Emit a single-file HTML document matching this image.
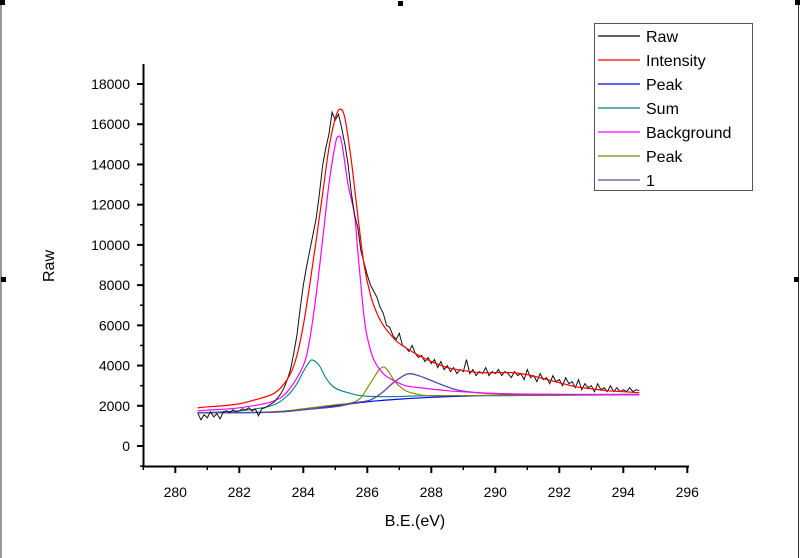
<!DOCTYPE html>
<html><head><meta charset="utf-8"><style>
body{margin:0;background:#fff;}
svg{display:block;font-family:"Liberation Sans",Arial,sans-serif;}
</style></head><body>
<svg id="chart" width="800" height="558" viewBox="0 0 800 558">
<line x1="1" y1="4" x2="1" y2="558" stroke="#333"/>
<line x1="798.5" y1="4" x2="798.5" y2="558" stroke="#333"/>
<rect x="0" y="0" width="5" height="5" fill="#000"/>
<rect x="398" y="1" width="5" height="5" fill="#000"/>
<rect x="795" y="0" width="5" height="5" fill="#000"/>
<rect x="1" y="277" width="5" height="5" fill="#000"/>
<rect x="794" y="277" width="5" height="5" fill="#000"/>
<g id="axes"></g>
<g id="series"></g>
<text x="415" y="526" font-size="16" text-anchor="middle">B.E.(eV)</text>
<text x="0" y="0" font-size="16" text-anchor="middle" transform="translate(54,266) rotate(-90)">Raw</text>
<g>
<rect x="594.5" y="23.5" width="158" height="167" fill="#fff" stroke="#555"/>
<g id="legend-items"></g>
</g>
</svg>
<script>
const rawX = [280.7,280.8,280.9,281.0,281.1,281.2,281.3,281.4,281.5,281.6,281.7,281.8,281.9,282.0,282.1,282.2,282.3,282.4,282.5,282.6,282.7,282.8,282.9,283.0,283.1,283.2,283.3,283.4,283.5,283.6,283.7,283.8,283.9,284.0,284.1,284.2,284.3,284.4,284.5,284.6,284.7,284.8,284.9,285.0,285.1,285.2,285.3,285.4,285.5,285.6,285.7,285.8,285.9,286.0,286.1,286.2,286.3,286.4,286.5,286.6,286.7,286.8,286.9,287.0,287.1,287.2,287.3,287.4,287.5,287.6,287.7,287.8,287.9,288.0,288.1,288.2,288.3,288.4,288.5,288.6,288.7,288.8,288.9,289.0,289.1,289.2,289.3,289.4,289.5,289.6,289.7,289.8,289.9,290.0,290.1,290.2,290.3,290.4,290.5,290.6,290.7,290.8,290.9,291.0,291.1,291.2,291.3,291.4,291.5,291.6,291.7,291.8,291.9,292.0,292.1,292.2,292.3,292.4,292.5,292.6,292.7,292.8,292.9,293.0,293.1,293.2,293.3,293.4,293.5,293.6,293.7,293.8,293.9,294.0,294.1,294.2,294.3,294.4,294.5];
const rawY = [1650,1300,1550,1400,1700,1450,1600,1350,1700,1750,1650,1800,1700,1750,1850,1800,1900,1750,1850,1500,1850,1900,2000,2100,2200,2400,2600,2900,3300,3800,4600,5500,6800,8000,8900,9700,10500,11300,12500,13900,14800,15500,16600,16200,16500,15800,15000,14000,12600,11500,10900,9700,9100,8500,8000,7700,7400,6900,6600,6000,5900,5500,5300,5600,5000,4900,4700,5000,4600,4400,4500,4200,4400,4100,4300,3900,4200,3800,4000,3700,3900,3600,3800,3700,4300,3600,3800,3500,3700,3600,3900,3500,3700,3600,3800,3500,3700,3600,3400,3700,3500,3600,3300,3800,3400,3500,3200,3600,3300,3400,3100,3500,3200,3300,3000,3400,3100,3200,2900,3300,2800,3100,2900,3000,2700,3100,2800,2900,2700,3000,2700,2900,2700,2800,2700,2900,2700,2800,2750];

const redX = [280.7,281,281.5,282,282.5,283,283.3,283.6,283.8,284.0,284.2,284.4,284.6,284.8,285.0,285.15,285.3,285.5,285.7,285.9,286.1,286.3,286.5,286.8,287.0,287.5,288.0,288.5,289.0,289.5,290.0,290.5,291.0,291.5,292.0,292.5,293.0,293.5,294.0,294.5];
const redY = [1900,1950,2000,2100,2300,2550,2900,3600,4500,6000,8000,10200,12500,14800,16300,16750,16300,14200,11500,9000,7500,6600,6000,5400,5100,4600,4200,3900,3750,3650,3650,3650,3550,3350,3150,2950,2850,2750,2700,2650];

const magX = [280.7,281,282,283,283.5,284.0,284.2,284.4,284.6,284.8,285.0,285.1,285.2,285.4,285.6,285.7,285.8,285.9,286.0,286.2,286.5,286.8,287.2,287.75,288.5,289.6,291,294.5];
const magY = [1750,1780,1900,2200,2700,4000,5300,7500,10200,13000,15000,15400,15100,13000,11500,9750,8000,6400,5400,4300,3600,3280,3000,2880,2750,2640,2580,2550];

const tealX = [280.7,282,283,283.5,283.8,284.0,284.2,284.3,284.5,284.7,284.9,285.1,285.4,285.8,286.5,288,290,292,294.5];
const tealY = [1650,1750,2000,2500,3100,3700,4200,4270,4000,3400,3000,2800,2650,2500,2450,2500,2500,2520,2550];

const oliveX = [280.7,283,284,285,285.5,285.8,286.1,286.5,286.9,287.2,287.5,288,290,294.5];
const oliveY = [1650,1700,1850,2050,2150,2400,3130,3930,3130,2750,2600,2500,2520,2550];

const slateX = [280.7,283,284,285,285.6,286.1,286.5,286.8,287.25,287.6,287.96,288.4,288.8,289.5,290.5,292,294.5];
const slateY = [1650,1680,1800,1950,2150,2290,2700,3130,3580,3500,3280,3000,2790,2640,2580,2560,2560];

const blueX = [280.7,283,284,285,286,287,288,289,290,292,294.5];
const blueY = [1650,1680,1800,2000,2200,2330,2420,2480,2520,2550,2560];

const xTicks = [280,282,284,286,288,290,292,294,296];
const yTicks = [0,2000,4000,6000,8000,10000,12000,14000,16000,18000];
const legendLabels = ["Raw","Intensity","Peak","Sum","Background","Peak","1"];
const legendColors = ["#000000","#ff0000","#0000ff","#008080","#ff00ff","#808000","#5050a8"];

const NS = "http://www.w3.org/2000/svg";
function X(v){ return 175.3 + (v - 280) * 32; }
function Y(v){ return 446 - v * 0.02011; }
function mk(tag, attrs, parent){
  const e = document.createElementNS(NS, tag);
  for (const k in attrs) e.setAttribute(k, attrs[k]);
  parent.appendChild(e);
  return e;
}
const axes = document.getElementById('axes');
const series = document.getElementById('series');

let el = mk('line', {x1:143.5, y1:64, x2:143.5, y2:467, stroke:'#000', 'stroke-width':2}, axes);


el = mk('line', {x1:142.5, y1:466.5, x2:689, y2:466.5, stroke:'#000', 'stroke-width':2}, axes);



for (let i = 0; i < yTicks.length; i++) {
  const v = yTicks[i], y = Y(v);
  el = mk('line', {x1:137, y1:y, x2:143, y2:y, stroke:'#000', 'stroke-width':2}, axes);
  
  
  const t = mk('text', {x:130, y:y + 5, 'font-size':14, 'text-anchor':'end'}, axes);
  t.textContent = v;
  
  
  const mv = v + 1000, my = Y(mv);
  if (my > 64) {
    el = mk('line', {x1:140, y1:my, x2:143, y2:my, stroke:'#000', 'stroke-width':1.5}, axes);
    
    
  }
}
el = mk('line', {x1:140, y1:Y(-1000), x2:143, y2:Y(-1000), stroke:'#000', 'stroke-width':1.5}, axes);



for (let i = 0; i < xTicks.length; i++) {
  const v = xTicks[i], x = X(v);
  el = mk('line', {x1:x, y1:466, x2:x, y2:473, stroke:'#000', 'stroke-width':2}, axes);
  
  
  const t = mk('text', {x:x, y:497, 'font-size':14, 'text-anchor':'middle'}, axes);
  t.textContent = v;
  
  
  const mx = X(v - 1);
  if (mx > 143) {
    el = mk('line', {x1:mx, y1:466, x2:mx, y2:470, stroke:'#000', 'stroke-width':1.5}, axes);
    
    
  }
}

function smoothPath(xs, ys){
  const p = xs.map((v, i) => [X(v), Y(ys[i])]);
  let d = 'M' + p[0][0].toFixed(2) + ',' + p[0][1].toFixed(2);
  for (let i = 0; i < p.length - 1; i++) {
    const p0 = p[Math.max(0, i - 1)], p1 = p[i], p2 = p[i + 1], p3 = p[Math.min(p.length - 1, i + 2)];
    const c1x = p1[0] + (p2[0] - p0[0]) / 6, c1y = p1[1] + (p2[1] - p0[1]) / 6;
    const c2x = p2[0] - (p3[0] - p1[0]) / 6, c2y = p2[1] - (p3[1] - p1[1]) / 6;
    d += 'C' + c1x.toFixed(2) + ',' + c1y.toFixed(2) + ' ' + c2x.toFixed(2) + ',' + c2y.toFixed(2) + ' ' + p2[0].toFixed(2) + ',' + p2[1].toFixed(2);
  }
  return d;
}
function linePath(xs, ys){
  return xs.map((v, i) => (i ? 'L' : 'M') + X(v).toFixed(2) + ',' + Y(ys[i]).toFixed(2)).join('');
}

el = mk('path', {d:smoothPath(blueX, blueY), fill:'none', stroke:'#0000ff', 'stroke-width':1.2}, series);


el = mk('path', {d:smoothPath(tealX, tealY), fill:'none', stroke:'#008080', 'stroke-width':1.1}, series);


el = mk('path', {d:smoothPath(oliveX, oliveY), fill:'none', stroke:'#808000', 'stroke-width':1.1}, series);


el = mk('path', {d:smoothPath(slateX, slateY), fill:'none', stroke:'#5050a8', 'stroke-width':1.3}, series);


el = mk('path', {d:smoothPath(magX, magY), fill:'none', stroke:'#ff00ff', 'stroke-width':1.2}, series);


el = mk('path', {d:linePath(rawX, rawY), fill:'none', stroke:'#111', 'stroke-width':1}, series);


el = mk('path', {d:smoothPath(redX, redY), fill:'none', stroke:'#ff0000', 'stroke-width':1.2}, series);



const lg = document.getElementById('legend-items');
for (let i = 0; i < legendLabels.length; i++) {
  const y = 36 + i * 24;
  const g = mk('g', {}, lg);
  
  
  el = mk('line', {x1:598, y1:y, x2:640, y2:y, stroke:legendColors[i], 'stroke-width':1.3}, g);
  
  
  const t = mk('text', {x:646, y:y + 6, 'font-size':16}, g);
  t.textContent = legendLabels[i];
  
  
}
</script>
</body></html>
